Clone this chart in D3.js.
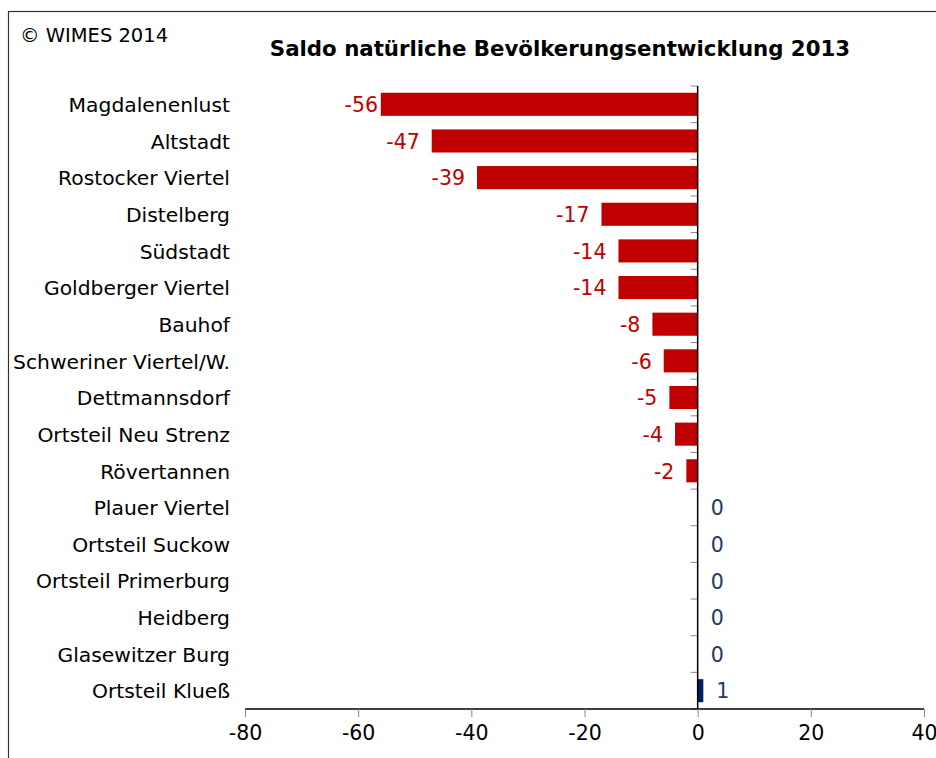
<!DOCTYPE html>
<html>
<head>
<meta charset="utf-8">
<script src="https://cdn.jsdelivr.net/npm/d3@7"></script>
<style>
  body { margin: 0; background: #fff; }
  svg text { font-family: "DejaVu Sans", Verdana, sans-serif; }
</style>
</head>
<body>
<div id="chart"></div>
<script>
// Stadtteile, sortiert wie im Original
const districts = [
    "Magdalenenlust", "Altstadt", "Rostocker Viertel", "Distelberg", "Südstadt",
    "Goldberger Viertel", "Bauhof", "Schweriner Viertel/W.", "Dettmannsdorf",
    "Ortsteil Neu Strenz", "Rövertannen", "Plauer Viertel", "Ortsteil Suckow",
    "Ortsteil Primerburg", "Heidberg", "Glasewitzer Burg", "Ortsteil Klueß"
];
const saldo = [-56, -47, -39, -17, -14, -14, -8, -6, -5, -4, -2, 0, 0, 0, 0, 0, 1];
const xTicks = [-80, -60, -40, -20, 0, 20, 40];

const width = 936, height = 758;
const margin = { top: 86, left: 245, right: 12, bottom: 49 };

const svg = d3.select("#chart").append("svg")
    .attr("width", width)
    .attr("height", height);

// Rahmen (rechts und unten abgeschnitten)
svg.append("rect")
    .attr("x", 8.5).attr("y", 11.5)
    .attr("width", 960).attr("height", 800)
    .attr("fill", "none")
    .attr("stroke", "#333")
    .attr("stroke-width", 1.2);

const x = d3.scaleLinear()
    .domain([-80, 40])
    .range([margin.left, width - margin.right]);

const y = d3.scaleBand()
    .domain(districts)
    .range([margin.top, height - margin.bottom])
    .paddingInner(0.37)
    .paddingOuter(0.185);

const data = districts.map((d, i) => ({ name: d, value: saldo[i] }));

// Balken
svg.append("g")
    .selectAll("rect")
    .data(data)
    .enter().append("rect")
    .attr("x", d => x(Math.min(0, d.value)))
    .attr("y", d => y(d.name))
    .attr("width", d => Math.abs(x(d.value) - x(0)))
    .attr("height", y.bandwidth())
    .attr("fill", d => d.value < 0 ? "#c00000" : "#002060");

// Werte (längster Balken: Beschriftung etwas näher, wie im Original)
svg.append("g")
    .selectAll("text")
    .data(data)
    .enter().append("text")
    .attr("x", d => d.value < 0 ? Math.max(x(d.value) - 12, 378) : x(d.value) + 13)
    .attr("y", d => y(d.name) + y.bandwidth() / 2)
    .attr("dy", "0.38em")
    .attr("text-anchor", d => d.value < 0 ? "end" : "start")
    .attr("font-size", 20.5)
    .attr("fill", d => d.value < 0 ? "#c00000" : "#1f3864")
    .text(d => d.value);

// Kategorienbeschriftung
svg.append("g")
    .selectAll("text")
    .data(districts)
    .enter().append("text")
    .attr("x", margin.left - 15)
    .attr("y", d => y(d) + y.bandwidth() / 2)
    .attr("dy", "0.38em")
    .attr("text-anchor", "end")
    .attr("font-size", 20.3)
    .attr("fill", "#000")
    .text(d => d);

// senkrechte Achse bei 0 mit Trennstrichen
const step = y.step();
const yAxis = svg.append("g");
yAxis.selectAll("line.tick")
    .data(d3.range(districts.length + 1))
    .enter().append("line")
    .attr("x1", x(0) - 7).attr("x2", x(0))
    .attr("y1", i => margin.top + i * step)
    .attr("y2", i => margin.top + i * step)
    .attr("stroke", "#888");
yAxis.append("line")
    .attr("x1", x(0)).attr("x2", x(0))
    .attr("y1", margin.top).attr("y2", height - margin.bottom)
    .attr("stroke", "#000")
    .attr("stroke-width", 1.5);

// x-Achse
const xAxis = svg.append("g")
    .attr("transform", `translate(0,${height - margin.bottom})`)
    .call(d3.axisBottom(x).tickValues(xTicks).tickSize(8).tickPadding(8));
xAxis.select(".domain").attr("stroke", "#000").attr("stroke-width", 1.5)
    .attr("d", `M${x(-80)},0H${x(40)}`);
xAxis.selectAll(".tick line").attr("stroke", "#888");
xAxis.selectAll(".tick text")
    .attr("font-size", 20.5)
    .attr("fill", "#000")
    .style("font-family", "DejaVu Sans, sans-serif")
    .text(d => d);

// Titel und Copyright
svg.append("text")
    .attr("x", 560).attr("y", 56)
    .attr("text-anchor", "middle")
    .attr("font-size", 21.3)
    .attr("font-weight", "bold")
    .text("Saldo natürliche Bevölkerungsentwicklung 2013");

svg.append("text")
    .attr("x", 20).attr("y", 42)
    .attr("font-size", 19.5)
    .text("© WIMES 2014");
</script>
</body>
</html>
